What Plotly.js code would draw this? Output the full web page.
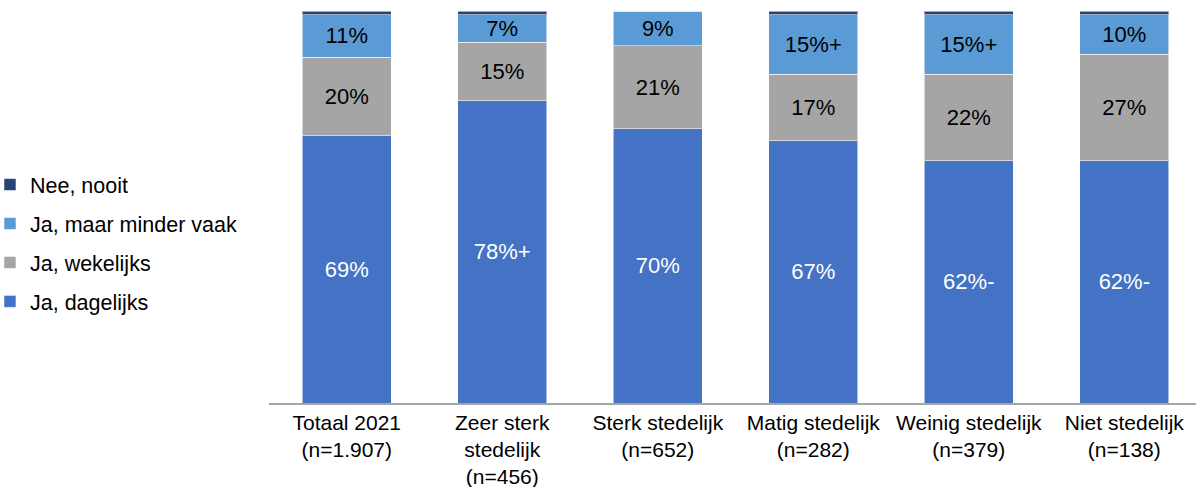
<!DOCTYPE html>
<html>
<head>
<meta charset="utf-8">
<script src="https://cdn.plot.ly/plotly-3.0.1.min.js"></script>
<style>html,body{margin:0;padding:0;background:#fff;}#chart{width:1196px;height:487px;}</style>
</head>
<body>
<div id="chart"></div>
<script>
const categories = [
  "Totaal 2021<br>(n=1.907)",
  "Zeer sterk<br>stedelijk<br>(n=456)",
  "Sterk stedelijk<br>(n=652)",
  "Matig stedelijk<br>(n=282)",
  "Weinig stedelijk<br>(n=379)",
  "Niet stedelijk<br>(n=138)"
];
const dagelijks = [68.2, 77.1, 69.9, 66.9, 61.8, 61.8];
const wekelijks = [20.0, 14.9, 21.2, 17.0, 22.1, 27.2];
const minderVaak = [10.9, 7.0, 8.9, 15.1, 15.1, 10.0];
const nooit = [0.9, 0.9, 0.0, 0.9, 0.9, 0.9];
const labelsDagelijks = ["69%", "78%+", "70%", "67%", "62%-", "62%-"];
const labelsWekelijks = ["20%", "15%", "21%", "17%", "22%", "27%"];
const labelsMinder = ["11%", "7%", "9%", "15%+", "15%+", "10%"];

const FONT = "Liberation Sans, Arial, sans-serif";
const edge = {color: "rgba(255,255,255,0.55)", width: 1};
const W = 0.572;

function tr(name, y, text, color, textColor, rank) {
  return {
    type: "bar", name: name, x: categories, y: y,
    text: text, textposition: text ? "inside" : "none",
    insidetextanchor: "middle", constraintext: "none",
    textfont: {family: FONT, size: 22, color: textColor},
    marker: {color: color, line: edge},
    width: W, legendrank: rank, legendgroup: "g" + rank, hoverinfo: "skip"
  };
}

const data = [
  tr("Ja, dagelijks", dagelijks, labelsDagelijks, "#4472C4", "#ffffff", 4),
  tr("Ja, wekelijks", wekelijks, labelsWekelijks, "#A5A5A5", "#000000", 3),
  tr("Ja, maar minder vaak", minderVaak, labelsMinder, "#5B9BD5", "#000000", 2),
  tr("Nee, nooit", nooit, null, "#264478", "#000000", 1)
];

const layout = {
  width: 1196, height: 487,
  margin: {l: 269, r: 0, t: 11, b: 84, autoexpand: false},
  barmode: "stack",
  paper_bgcolor: "#ffffff", plot_bgcolor: "#ffffff",
  font: {family: FONT, size: 22, color: "#000000"},
  xaxis: {
    type: "category", range: [-0.5, 5.461],
    showline: true, linecolor: "#a6a6a6", linewidth: 1.5,
    ticks: "", showgrid: false, zeroline: false,
    tickfont: {family: FONT, size: 21, color: "#000000"}
  },
  yaxis: {range: [0, 100], visible: false, showgrid: false, zeroline: false},
  showlegend: true,
  legend: {
    x: -0.301, xanchor: "left", y: 0.408, yanchor: "middle",
    traceorder: "grouped", tracegroupgap: 8,
    font: {family: FONT, size: 21.5, color: "#000000"},
    itemwidth: 30, bgcolor: "rgba(0,0,0,0)"
  }
};

Plotly.newPlot("chart", data, layout, {displayModeBar: false, staticPlot: true});
</script>
</body>
</html>
